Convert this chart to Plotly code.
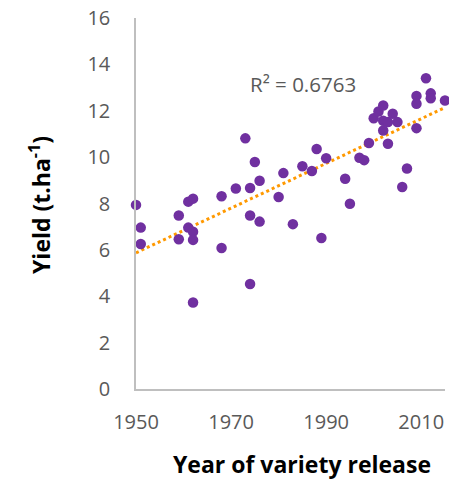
import numpy as np
import plotly.graph_objects as go

# Year of release and grain yield (t/ha) for each variety
release_year = [
    1950, 1951, 1951, 1959, 1959, 1961, 1962, 1961, 1962, 1962, 1962,
    1968, 1968, 1971, 1973, 1975, 1974, 1976, 1974, 1976, 1974,
    1980, 1981, 1983, 1985, 1987, 1988, 1990, 1989, 1994, 1995,
    1997, 1998, 1999, 2000, 2001, 2002, 2002, 2003, 2004, 2005,
    2002, 2003, 2006, 2007, 2009, 2009, 2009, 2011, 2012, 2012, 2015,
]
yield_t_ha = [
    7.94, 6.96, 6.25, 7.48, 6.46, 8.08, 8.21, 6.96, 6.78, 6.43, 3.73,
    8.31, 6.08, 8.65, 10.81, 9.79, 8.67, 8.98, 7.48, 7.22, 4.53,
    8.28, 9.31, 7.11, 9.61, 9.40, 10.35, 9.95, 6.51, 9.07, 7.99,
    9.97, 9.87, 10.61, 11.68, 11.97, 12.23, 11.57, 11.51, 11.87, 11.51,
    11.15, 10.58, 8.71, 9.51, 12.64, 12.30, 11.25, 13.40, 12.75, 12.54, 12.44,
]

x_ticks = [1950, 1970, 1990, 2010]
y_ticks = [0, 2, 4, 6, 8, 10, 12, 14, 16]
r2_label = "R² = 0.6763"

# Linear trend over the plotted year span
slope, intercept = np.polyfit(release_year, yield_t_ha, 1)
trend_x = np.linspace(1950, 2015, 2)
trend_y = slope * trend_x + intercept

PURPLE = "#7030A0"
ORANGE = "#FF9900"
TICK_GREY = "#595959"
AXIS_GREY = "#BFBFBF"
FONT = "Open Sans"

fig = go.Figure()

fig.add_trace(go.Scatter(
    x=trend_x, y=trend_y, mode="lines",
    line=dict(color=ORANGE, width=3, dash="dot"),
    hoverinfo="skip", showlegend=False,
))

fig.add_trace(go.Scatter(
    x=release_year, y=yield_t_ha, mode="markers",
    marker=dict(color=PURPLE, size=10.5, line=dict(width=0)),
    cliponaxis=False, showlegend=False,
))

fig.update_layout(
    width=449, height=479,
    margin=dict(l=136, r=4, t=16, b=90),
    paper_bgcolor="white", plot_bgcolor="white",
    font=dict(family=FONT, color=TICK_GREY, size=20),
    xaxis=dict(
        range=[1950, 2015], tickvals=x_ticks, ticktext=[str(v) for v in x_ticks],
        showgrid=False, zeroline=False, showline=True,
        linecolor=AXIS_GREY, linewidth=1.5, ticks="",
        ticklabelstandoff=14,
        tickfont=dict(family=FONT, size=20, color=TICK_GREY),
    ),
    yaxis=dict(
        range=[0, 16], tickvals=y_ticks,
        showgrid=False, zeroline=False, showline=True,
        linecolor=AXIS_GREY, linewidth=1.5, ticks="",
        ticklabelstandoff=20,
        tickfont=dict(family=FONT, size=20, color=TICK_GREY),
    ),
    annotations=[
        dict(text="Yield (t.ha<sup>-1</sup>)", xref="paper", yref="paper",
             x=-136 / 309 + 40 / 309, y=(389 - 204) / 373, textangle=-90,
             showarrow=False, xanchor="center", yanchor="middle",
             font=dict(family=FONT, size=23, color="black", weight="bold")),
        dict(text="Year of variety release", xref="paper", yref="paper",
             x=(302 - 136) / 309, y=-(464 - 389) / 373,
             showarrow=False, xanchor="center", yanchor="middle",
             font=dict(family=FONT, size=23, color="black", weight="bold")),
        dict(text=r2_label, xref="paper", yref="paper",
             x=(248 - 136) / 309, y=(389 - 82) / 373,
             showarrow=False, xanchor="left", yanchor="middle",
             font=dict(family=FONT, size=20.5, color=TICK_GREY)),
    ],
)

fig.write_html("out.html")
